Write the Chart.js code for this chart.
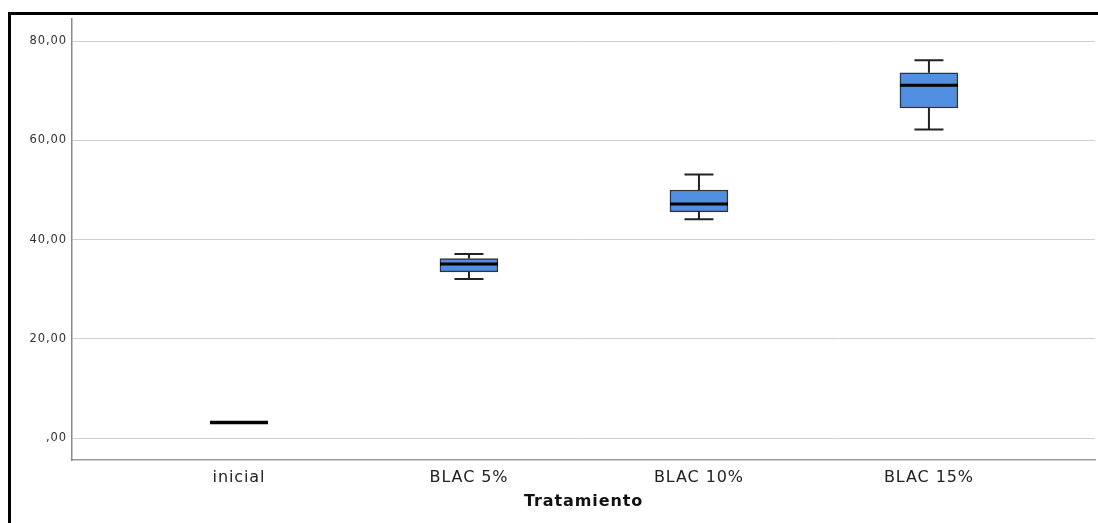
<!DOCTYPE html>
<html>
<head>
<meta charset="utf-8">
<script src="https://cdn.jsdelivr.net/npm/chart.js@4/dist/chart.umd.min.js"></script>
<style>
  html, body { margin: 0; padding: 0; background: #fff; }
  #wrap { position: relative; width: 1098px; height: 523px; overflow: hidden; }
  #c { position: absolute; left: 0; top: 0; }
  #frame { position: absolute; left: 8px; top: 12px; width: 1200px; height: 600px;
           border-left: 3px solid #000; border-top: 3px solid #000; pointer-events: none; }
</style>
</head>
<body>
<div id="wrap">
  <canvas id="c" width="1098" height="523"></canvas>
  <div id="frame"></div>
</div>
<script>
// Treatments and their box-plot summaries
const categories = ['inicial', 'BLAC 5%', 'BLAC 10%', 'BLAC 15%'];
const minValues    = [3.2, 32.1, 44.1, 62.2];
const q1Values     = [3.2, 33.5, 45.6, 66.5];
const medianValues = [3.2, 35.1, 47.2, 71.1];
const q3Values     = [3.2, 36.2, 50.0, 73.6];
const maxValues    = [3.2, 37.1, 53.1, 76.1];
const yTicks = [0, 20, 40, 60, 80];

const BOX_WIDTH = 58;
const CAP_WIDTH = 29;

function formatComma(v) {
  const s = v.toFixed(2).replace('.', ',');
  return v === 0 ? ',00' : s;
}

// Slightly open letter spacing for all chart text
const textSpacing = {
  id: 'textSpacing',
  beforeDraw(chart) { chart.ctx.letterSpacing = '0.9px'; }
};

// Whiskers and median lines drawn on top of the floating-bar boxes
const boxWhiskers = {
  id: 'boxWhiskers',
  afterDatasetsDraw(chart) {
    const { ctx, scales: { x, y } } = chart;
    ctx.save();
    ctx.lineCap = 'butt';
    categories.forEach((c, i) => {
      const cx = x.getPixelForValue(i);
      const yMin = y.getPixelForValue(minValues[i]);
      const yMax = y.getPixelForValue(maxValues[i]);
      const yQ1 = y.getPixelForValue(q1Values[i]);
      const yQ3 = y.getPixelForValue(q3Values[i]);
      const yMed = y.getPixelForValue(medianValues[i]);
      ctx.strokeStyle = '#222';
      ctx.lineWidth = 2;
      if (maxValues[i] > q3Values[i]) {
        ctx.beginPath();
        ctx.moveTo(cx, yQ3); ctx.lineTo(cx, yMax);
        ctx.moveTo(cx - CAP_WIDTH / 2, yMax); ctx.lineTo(cx + CAP_WIDTH / 2, yMax);
        ctx.stroke();
      }
      if (minValues[i] < q1Values[i]) {
        ctx.beginPath();
        ctx.moveTo(cx, yQ1); ctx.lineTo(cx, yMin);
        ctx.moveTo(cx - CAP_WIDTH / 2, yMin); ctx.lineTo(cx + CAP_WIDTH / 2, yMin);
        ctx.stroke();
      }
      ctx.strokeStyle = '#000';
      ctx.lineWidth = q3Values[i] > q1Values[i] ? 3 : 3.5;
      ctx.beginPath();
      ctx.moveTo(cx - BOX_WIDTH / 2, yMed); ctx.lineTo(cx + BOX_WIDTH / 2, yMed);
      ctx.stroke();
    });
    ctx.restore();
  }
};

new Chart(document.getElementById('c'), {
  type: 'bar',
  data: {
    datasets: [{
      data: categories.map((c, i) => ({ x: i, y: [q1Values[i], q3Values[i]] })),
      backgroundColor: '#5190e0',
      borderColor: '#333',
      borderWidth: 1.5,
      borderSkipped: false,
      barThickness: BOX_WIDTH
    }]
  },
  options: {
    responsive: false,
    animation: false,
    devicePixelRatio: 1,
    layout: { padding: { top: 19, right: 3, left: 0, bottom: 0 } },
    plugins: { legend: { display: false }, tooltip: { enabled: false } },
    scales: {
      x: {
        type: 'linear',
        offset: false,
        min: -0.726,
        max: 3.722,
        afterFit(s) { s.height = 63; },
        afterBuildTicks(s) { s.ticks = categories.map((c, i) => ({ value: i })); },
        grid: { display: false, drawTicks: false },
        border: { display: true, color: '#999', width: 1.5 },
        ticks: {
          autoSkip: false,
          maxRotation: 0,
          padding: 8,
          color: '#222',
          font: { family: 'DejaVu Sans', size: 16 },
          callback: (v) => categories[v]
        },
        title: {
          display: true,
          text: 'Tratamiento',
          color: '#111',
          font: { family: 'DejaVu Sans', size: 16, weight: 'bold' },
          padding: { top: 0, bottom: 12 }
        }
      },
      y: {
        min: -4.37,
        max: 84.43,
        afterFit(s) { s.width = 72; },
        afterBuildTicks(s) { s.ticks = yTicks.map(v => ({ value: v })); },
        grid: { color: '#d0d0d0', lineWidth: 1, drawTicks: false },
        border: { display: true, color: '#8a8a8a', width: 1.5 },
        ticks: {
          padding: 5,
          color: '#333',
          font: { family: 'DejaVu Sans', size: 11.5 },
          callback: (v) => formatComma(v)
        }
      }
    }
  },
  plugins: [textSpacing, boxWhiskers]
});
</script>
</body>
</html>
